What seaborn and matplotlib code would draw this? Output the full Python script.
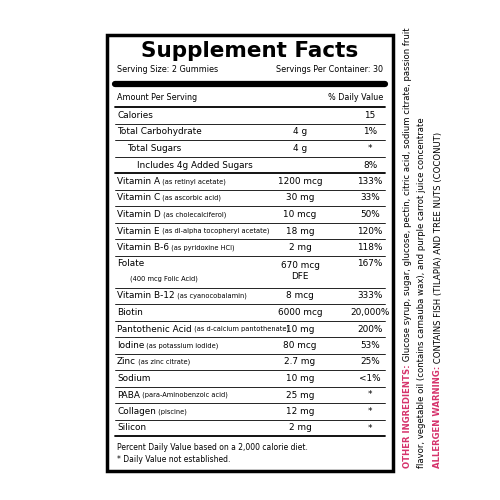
import matplotlib
matplotlib.use('Agg')
from matplotlib import pyplot as plt
import seaborn as sns

## label content
names = ['Calories', 'Total Carbohydrate', 'Total Sugars', 'Includes 4g Added Sugars',
         'Vitamin A', 'Vitamin C', 'Vitamin D', 'Vitamin E', 'Vitamin B-6', 'Folate',
         'Vitamin B-12', 'Biotin', 'Pantothenic Acid', 'Iodine', 'Zinc', 'Sodium',
         'PABA', 'Collagen', 'Silicon']
sources = ['', '', '', '', '(as retinyl acetate)', '(as ascorbic acid)', '(as cholecalciferol)',
           '(as dl-alpha tocopheryl acetate)', '(as pyridoxine HCl)', '',
           '(as cyanocobalamin)', '', '(as d-calcium pantothenate)', '(as potassium iodide)',
           '(as zinc citrate)', '', '(para-Aminobenzoic acid)', '(piscine)', '']
indents = [0, 0, 1, 2] + [0] * 15
amounts = ['', '4 g', '4 g', '', '1200 mcg', '30 mg', '10 mcg', '18 mg', '2 mg', '670 mcg\nDFE',
           '8 mcg', '6000 mcg', '10 mg', '80 mcg', '2.7 mg', '10 mg', '25 mg', '12 mg', '2 mg']
dvs = ['15', '1%', '*', '8%', '133%', '33%', '50%', '120%', '118%', '167%', '333%', '20,000%',
       '200%', '53%', '25%', '<1%', '*', '*', '*']
heights = [16.5] * 9 + [32] + [16.5] * 9

sns.set_style('white')
plt.rcParams['font.family'] = ['DejaVu Sans']
plt.rcParams['text.color'] = 'black'

fig = plt.figure(figsize=(5, 5), dpi=100)
ax = fig.add_axes([0, 0, 1, 1])
ax.set_xlim(0, 500)
ax.set_ylim(500, 0)
ax.axis('off')

L, R = 109, 391
ax.add_patch(plt.Rectangle((L - 2, 35), R - L + 4, 436, fill=False, lw=2.5, ec='black'))
ax.text(250, 51, 'Supplement Facts', ha='center', va='center', fontsize=15.5,
        fontweight='heavy')
ax.text(117, 70, 'Serving Size: 2 Gummies', fontsize=5.8, va='center')
ax.text(383, 70, 'Servings Per Container: 30', fontsize=5.8, va='center', ha='right')
ax.plot([115, 385], [84, 84], color='black', lw=4.5)
ax.text(117, 98, 'Amount Per Serving', fontsize=5.8, va='center')
ax.text(383, 98, '% Daily Value', fontsize=5.8, va='center', ha='right')
ax.plot([115, 385], [107, 107], color='black', lw=1.3)

y = 107
for i, n in enumerate(names):
    h = heights[i]
    yc = y + 8.5
    t = ax.text(117 + indents[i] * 10, yc, n, fontsize=6.4, va='center')
    if sources[i]:
        ax.annotate(' ' + sources[i], xycoords=t, xy=(1, 0.5), va='center', fontsize=4.8)
    if names[i] == 'Folate':
        ax.text(130, yc + 15, '(400 mcg Folic Acid)', fontsize=4.8, va='center')
        ax.text(300, yc + 7, amounts[i], fontsize=6.4, va='center', ha='center', linespacing=1.3)
    else:
        ax.text(300, yc, amounts[i], fontsize=6.4, va='center', ha='center')
    ax.text(370, yc, dvs[i], fontsize=6.4, va='center', ha='center')
    y += h
    lw = 1.3 if names[i] in ('Includes 4g Added Sugars', 'Silicon') else 0.6
    ax.plot([115, 385], [y, y], color='black', lw=lw)

ax.text(117, 448, 'Percent Daily Value based on a 2,000 calorie diet.', fontsize=5.5, va='center')
ax.text(117, 460, '* Daily Value not established.', fontsize=5.5, va='center')

## side text (vertical)
pink = '#d6336c'
t1 = ax.text(407, 468, 'OTHER INGREDIENTS:', rotation=90, fontsize=6.1, color=pink,
             fontweight='bold', va='bottom', ha='center')
ax.annotate(' Glucose syrup, sugar, glucose, pectin, citric acid, sodium citrate, passion fruit',
            xycoords=t1, xy=(0.5, 1), rotation=90, fontsize=6.1, va='bottom', ha='center')
ax.text(421, 468, 'flavor, vegetable oil (contains carnauba wax), and purple carrot juice concentrate',
        rotation=90, fontsize=6.1, va='bottom', ha='center')
t2 = ax.text(438, 468, 'ALLERGEN WARNING:', rotation=90, fontsize=6.1, color=pink,
             fontweight='bold', va='bottom', ha='center')
ax.annotate(' CONTAINS FISH (TILAPIA) AND TREE NUTS (COCONUT)',
            xycoords=t2, xy=(0.5, 1), rotation=90, fontsize=6.1, va='bottom', ha='center')

plt.savefig('out.png', dpi=100)
